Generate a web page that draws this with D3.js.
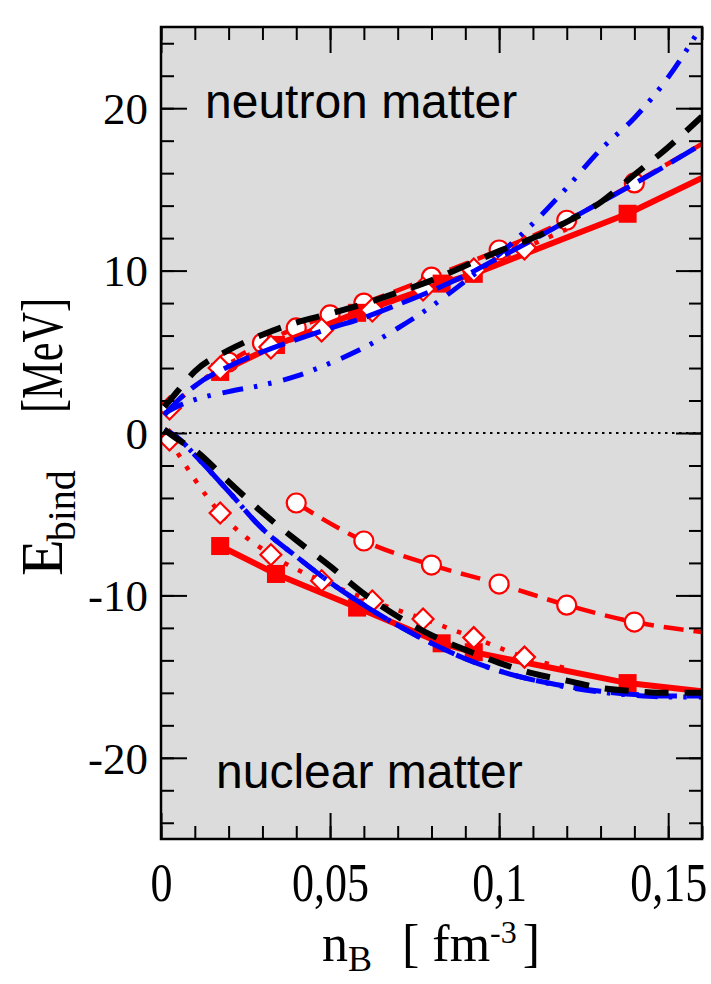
<!DOCTYPE html>
<html>
<head>
<meta charset="utf-8">
<script src="https://cdn.jsdelivr.net/npm/d3@7"></script>
<style>
  body { margin: 0; background: #fff; }
  .serif { font-family: "Liberation Serif", "Times New Roman", Times, serif; }
  .sans { font-family: "Liberation Sans", Arial, Helvetica, sans-serif; }
</style>
</head>
<body>
<svg id="chart" width="711" height="984"></svg>
<script>
// ---- binding energy per nucleon E_bind (MeV) vs baryon density n_B (fm^-3) ----

// filled squares, joined by a solid line
const squareN        = [0.0175, 0.034, 0.058, 0.083, 0.0925, 0.138];
const squareNeutron  = [3.76, 5.42, 7.4, 9.2, 9.8, 13.5];
const squareNuclear  = [-6.96, -8.68, -10.75, -12.95, -13.5, -15.4];
const solidEndN = 0.16, solidEndNeutron = 15.7, solidEndNuclear = -15.9;

// open circles, joined by a dashed line
const circleNeutronN = [0.02, 0.03, 0.04, 0.05, 0.06, 0.08, 0.10, 0.12, 0.14];
const circleNeutron  = [4.37, 5.54, 6.47, 7.27, 8.0, 9.6, 11.27, 13.1, 15.4];
const circleNuclearN = [0.04, 0.06, 0.08, 0.10, 0.12, 0.14];
const circleNuclear  = [-4.31, -6.65, -8.13, -9.3, -10.6, -11.64];
const dashedEndN = 0.16, dashedEndNeutron = 17.8, dashedEndNuclear = -12.25;

// open diamonds, joined by a dotted line
const diamondN       = [0.0025, 0.0175, 0.0325, 0.0475, 0.0625, 0.0775, 0.0925, 0.1075];
const diamondNeutron = [1.54, 4.0, 5.3, 6.34, 7.57, 8.87, 10.04, 11.4];
const diamondNuclear = [-0.43, -4.93, -7.5, -9.1, -10.35, -11.45, -12.6, -13.8];
const dottedEndN = 0.12, dottedEndNeutron = 12.55, dottedEndNuclear = -14.5;

// curves without symbols
const curveN = [0.001, 0.005, 0.01, 0.02, 0.03, 0.04, 0.05, 0.06, 0.07, 0.08,
                0.09, 0.10, 0.11, 0.12, 0.13, 0.14, 0.15, 0.16];
const blackNeutron   = [1.6, 2.6, 3.8, 5.1, 6.05, 6.8, 7.35, 7.95, 8.65, 9.4,
                        10.3, 11.2, 12.0, 13.0, 14.2, 15.9, 17.6, 19.5];
const blackNuclear   = [0.2, -0.4, -1.05, -3.0, -4.9, -6.6, -8.2, -9.9, -11.3, -12.45,
                        -13.35, -14.15, -14.8, -15.25, -15.7, -15.9, -16.0, -16.0];
const blueNeutron    = [1.1, 2.0, 2.9, 4.1, 5.0, 5.75, 6.45, 7.1, 7.9, 8.75,
                        9.7, 10.8, 11.9, 13.05, 14.2, 15.35, 16.55, 17.8];
const blueNuclear    = [0.2, -0.3, -1.35, -3.6, -5.9, -7.6, -9.2, -10.6, -11.85, -12.95,
                        -13.9, -14.65, -15.2, -15.6, -15.9, -16.1, -16.2, -16.2];
const dashDotNeutron = [1.2, 1.65, 2.05, 2.55, 2.95, 3.5, 4.3, 5.25, 6.45, 7.8,
                        9.35, 11.0, 12.9, 15.1, 17.45, 19.4, 21.9, 25.1];
const dashDotNuclear = [0.2, -0.3, -1.35, -3.6, -5.9, -7.6, -9.2, -10.6, -11.85, -12.95,
                        -13.9, -14.65, -15.2, -15.65, -15.95, -16.15, -16.25, -16.25];

// axes
const xDomain = [0, 0.16];
const yDomain = [-25, 25];
const xMajorTicks = [0, 0.05, 0.10, 0.15];
const xTickLabels = ["0", "0,05", "0,1", "0,15"];
const yMajorTicks = [-20, -10, 0, 10, 20];
const yTickLabels = ["-20", "-10", "0", "10", "20"];

// ---------------------------------------------------------------------------
const svg = d3.select("#chart");
const plotLeft = 161, plotRight = 702, plotTop = 27, plotBottom = 839;

const x = d3.scaleLinear().domain(xDomain).range([plotLeft, plotRight]);
const y = d3.scaleLinear().domain(yDomain).range([plotBottom, plotTop]);

const RED = "#ff0000", BLUE = "#0000ff", BLACK = "#000000";

// plot background
svg.append("rect")
  .attr("x", plotLeft).attr("y", plotTop)
  .attr("width", plotRight - plotLeft).attr("height", plotBottom - plotTop)
  .attr("fill", "#dcdcdc");

svg.append("clipPath").attr("id", "plot-clip")
  .append("rect")
  .attr("x", plotLeft).attr("y", plotTop)
  .attr("width", plotRight - plotLeft).attr("height", plotBottom - plotTop);

const plot = svg.append("g").attr("clip-path", "url(#plot-clip)");

// zero line
plot.append("line")
  .attr("x1", x(0)).attr("x2", x(0.16))
  .attr("y1", y(0)).attr("y2", y(0))
  .attr("stroke", BLACK).attr("stroke-width", 2)
  .attr("stroke-dasharray", "2.5,4.5");

const zip = (xs, ys) => xs.map((v, i) => [v, ys[i]]);
const smooth = d3.line().x(d => x(d[0])).y(d => y(d[1])).curve(d3.curveMonotoneX);
const straight = d3.line().x(d => x(d[0])).y(d => y(d[1]));

function drawLine(points, gen, color, width, dash) {
  plot.append("path")
    .attr("d", gen(points))
    .attr("fill", "none")
    .attr("stroke", color)
    .attr("stroke-width", width)
    .attr("stroke-dasharray", dash || null)
    .attr("stroke-linejoin", "round");
}

// dashed line + open circles
const circleSets = [
  [zip(circleNeutronN, circleNeutron), [dashedEndN, dashedEndNeutron]],
  [zip(circleNuclearN, circleNuclear), [dashedEndN, dashedEndNuclear]]
];
circleSets.forEach(([pts, end]) => drawLine(pts.concat([end]), smooth, RED, 4.5, "20,10"));
circleSets.forEach(([pts]) => {
  plot.selectAll(null).data(pts).join("circle")
    .attr("cx", d => x(d[0])).attr("cy", d => y(d[1])).attr("r", 9.5)
    .attr("fill", "#fff").attr("stroke", RED).attr("stroke-width", 2.2);
});

// solid line + filled squares
const squareSets = [
  [zip(squareN, squareNeutron), [solidEndN, solidEndNeutron]],
  [zip(squareN, squareNuclear), [solidEndN, solidEndNuclear]]
];
squareSets.forEach(([pts, end]) => drawLine(pts.concat([end]), straight, RED, 6, null));
squareSets.forEach(([pts]) => {
  plot.selectAll(null).data(pts).join("rect")
    .attr("x", d => x(d[0]) - 9).attr("y", d => y(d[1]) - 9)
    .attr("width", 18).attr("height", 18)
    .attr("fill", RED);
});

// dotted line + open diamonds
const diamondSets = [
  [zip(diamondN, diamondNeutron), [dottedEndN, dottedEndNeutron], 11.5],
  [zip(diamondN, diamondNuclear), [dottedEndN, dottedEndNuclear], 10.5]
];
diamondSets.forEach(([pts, end]) => drawLine(pts.concat([end]), smooth, RED, 4.5, "4.5,11"));
diamondSets.forEach(([pts, , h]) => {
  plot.selectAll(null).data(pts).join("path")
    .attr("d", d => {
      const cx = x(d[0]), cy = y(d[1]);
      return `M${cx},${cy - h}L${cx + h},${cy}L${cx},${cy + h}L${cx - h},${cy}Z`;
    })
    .attr("fill", "#fff").attr("stroke", RED).attr("stroke-width", 2.2);
});

// curves without symbols
drawLine(zip(curveN, blueNeutron), smooth, BLUE, 5, "28,10");
drawLine(zip(curveN, blueNuclear), smooth, BLUE, 5, "28,10");
drawLine(zip(curveN, dashDotNeutron), smooth, BLUE, 5, "21,11,3.5,11,3.5,12");
drawLine(zip(curveN, dashDotNuclear), smooth, BLUE, 5, "21,11,3.5,11,3.5,12");
drawLine(zip(curveN, blackNeutron), smooth, BLACK, 6, "24,16");
drawLine(zip(curveN, blackNuclear), smooth, BLACK, 6, "24,16");

// ---- frame and ticks ----
const xMinor = d3.range(0, 0.1601, 0.01);
const yMinor = d3.range(-24, 25, 2);

function styleAxis(g) {
  g.select(".domain").remove();
  g.selectAll(".tick line").attr("stroke", BLACK).attr("stroke-width", 2);
}

svg.append("g").attr("transform", `translate(0,${plotBottom})`)
  .call(d3.axisBottom(x).tickValues(xMinor).tickSize(-13).tickFormat(""))
  .call(styleAxis);
const xAxis = svg.append("g").attr("transform", `translate(0,${plotBottom})`)
  .call(d3.axisBottom(x).tickValues(xMajorTicks).tickSize(-26)
        .tickFormat((d, i) => xTickLabels[i]))
  .call(styleAxis);
xAxis.selectAll(".tick text")
  .attr("class", "serif").attr("font-size", 44).attr("fill", BLACK)
  .attr("y", 0).attr("dy", null)
  .attr("transform", "translate(0,62) scale(1,1.25)");

svg.append("g").attr("transform", `translate(0,${plotTop})`)
  .call(d3.axisTop(x).tickValues(xMinor).tickSize(-13).tickFormat(""))
  .call(styleAxis);
svg.append("g").attr("transform", `translate(0,${plotTop})`)
  .call(d3.axisTop(x).tickValues(xMajorTicks).tickSize(-26).tickFormat(""))
  .call(styleAxis);

svg.append("g").attr("transform", `translate(${plotLeft},0)`)
  .call(d3.axisLeft(y).tickValues(yMinor).tickSize(-13).tickFormat(""))
  .call(styleAxis);
const yAxis = svg.append("g").attr("transform", `translate(${plotLeft},0)`)
  .call(d3.axisLeft(y).tickValues(yMajorTicks).tickSize(-26).tickPadding(13)
        .tickFormat((d, i) => yTickLabels[i]))
  .call(styleAxis);
yAxis.selectAll(".tick text")
  .attr("class", "serif").attr("font-size", 45).attr("fill", BLACK)
  .attr("dy", "0.34em");

svg.append("g").attr("transform", `translate(${plotRight},0)`)
  .call(d3.axisRight(y).tickValues(yMinor).tickSize(-13).tickFormat(""))
  .call(styleAxis);
svg.append("g").attr("transform", `translate(${plotRight},0)`)
  .call(d3.axisRight(y).tickValues(yMajorTicks).tickSize(-26).tickFormat(""))
  .call(styleAxis);

svg.append("rect")
  .attr("x", plotLeft).attr("y", plotTop)
  .attr("width", plotRight - plotLeft).attr("height", plotBottom - plotTop)
  .attr("fill", "none").attr("stroke", BLACK).attr("stroke-width", 2.5);

// ---- panel labels ----
svg.append("text").attr("class", "sans")
  .attr("x", 205).attr("y", 118).attr("font-size", 48).attr("fill", BLACK)
  .text("neutron matter");
svg.append("text").attr("class", "sans")
  .attr("x", 216).attr("y", 788).attr("font-size", 48).attr("fill", BLACK)
  .text("nuclear matter");

// ---- axis titles ----
const xTitle = svg.append("text").attr("class", "serif")
  .attr("x", 322).attr("y", 961)
  .attr("font-size", 52).attr("fill", BLACK);
xTitle.append("tspan").text("n");
xTitle.append("tspan").attr("font-size", 36).attr("dy", 10).text("B");
xTitle.append("tspan").attr("dy", -10).attr("dx", 30).text("[ fm");
xTitle.append("tspan").attr("font-size", 32).attr("dy", -18).text("-3");
xTitle.append("tspan").attr("dy", 18).attr("dx", 6).text("]");

// E_bind, then the unit set in condensed letters
const yTitle = svg.append("text").attr("class", "serif")
  .attr("transform", "translate(62,576) rotate(-90)")
  .attr("font-size", 60).attr("fill", BLACK);
yTitle.append("tspan").text("E");
yTitle.append("tspan").attr("font-size", 40).attr("dy", 13).attr("dx", -2).text("bind");
svg.append("text").attr("class", "serif")
  .attr("transform", "translate(62,413) rotate(-90)")
  .attr("font-size", 60).attr("fill", BLACK)
  .attr("textLength", 115).attr("lengthAdjust", "spacingAndGlyphs")
  .text("[MeV]");
</script>
</body>
</html>
